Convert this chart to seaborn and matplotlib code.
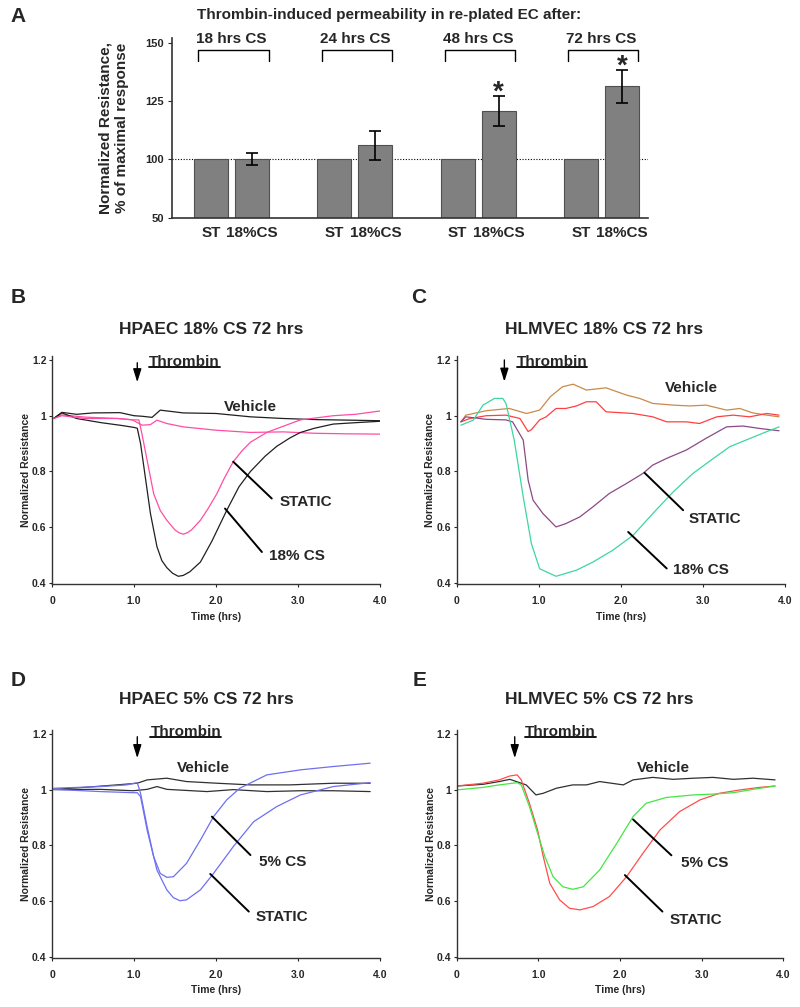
import pandas as pd
import seaborn as sns
import matplotlib
matplotlib.use("Agg")
from matplotlib import pyplot as plt

# Panel A: thrombin response in re-plated EC
groups = ["18 hrs CS", "24 hrs CS", "48 hrs CS", "72 hrs CS"]
conditions = ["ST", "18%CS"]
st_values = [100, 100, 100, 100]
cs_values = [100.2, 106.1, 120.6, 131.2]
cs_errors = [2.6, 6.2, 6.5, 7.0]
significant = [False, False, True, True]
a_yticks = [75, 100, 125, 150]
a_ytick_labels = ["50", "100", "125", "150"]

# Panel B: HPAEC 18% CS
b_t_vehicle = [0.02, 0.12, 0.3, 0.5, 0.83, 1.0, 1.1, 1.22, 1.32, 1.6, 2.0, 2.21, 2.42, 2.82, 3.23, 3.63, 4.0]
b_vehicle = [0.99, 1.012, 1.005, 1.01, 1.011, 1.0, 0.998, 0.994, 1.02, 1.01, 1.008, 1.002, 0.996, 0.99, 0.986, 0.984, 0.982]
b_t_vehicle2 = [0.02, 0.12, 0.4, 0.8, 0.98, 1.1, 1.2, 1.28, 1.4, 1.6, 2.0, 2.42, 2.82, 3.2, 3.6, 4.0]
b_vehicle2 = [0.99, 1.003, 0.995, 0.99, 0.985, 0.966, 0.968, 0.984, 0.972, 0.96, 0.948, 0.94, 0.942, 0.937, 0.935, 0.934]
b_t_cs = [0.02, 0.12, 0.3, 0.6, 0.85, 1.0, 1.04, 1.08, 1.12, 1.2, 1.28, 1.34, 1.4, 1.47, 1.54, 1.6, 1.68, 1.81,
          1.95, 2.13, 2.28, 2.42, 2.6, 2.74, 2.9, 3.03, 3.2, 3.43, 3.7, 4.0]
b_cs = [0.99, 1.01, 0.99, 0.975, 0.965, 0.958, 0.955, 0.9, 0.817, 0.65, 0.53, 0.48, 0.455, 0.435, 0.424, 0.427,
        0.44, 0.475, 0.55, 0.66, 0.745, 0.80, 0.855, 0.89, 0.92, 0.94, 0.955, 0.97, 0.975, 0.98]
b_t_static = [0.02, 0.12, 0.4, 0.8, 1.0, 1.06, 1.1, 1.16, 1.24, 1.32, 1.4, 1.5, 1.55, 1.6, 1.65, 1.7, 1.81, 1.9,
              2.01, 2.1, 2.21, 2.32, 2.42, 2.62, 2.8, 3.03, 3.43, 3.7, 4.0]
b_static = [0.99, 1.0, 0.99, 0.99, 0.985, 0.985, 0.93, 0.84, 0.72, 0.66, 0.625, 0.59, 0.58, 0.575, 0.58, 0.59,
            0.625, 0.665, 0.72, 0.775, 0.835, 0.875, 0.905, 0.94, 0.96, 0.985, 1.0, 1.005, 1.017]

# Panel C: HLMVEC 18% CS
c_t_vehicle = [0.05, 0.11, 0.36, 0.64, 0.85, 1.01, 1.14, 1.29, 1.42, 1.58, 1.82, 2.07, 2.23, 2.39, 2.64, 2.84,
               3.04, 3.29, 3.45, 3.61, 3.78, 3.93]
c_vehicle = [0.978, 1.002, 1.018, 1.026, 1.008, 1.02, 1.068, 1.104, 1.113, 1.092, 1.10, 1.074, 1.062, 1.044,
             1.038, 1.035, 1.038, 1.02, 1.026, 1.01, 1.002, 0.996]
c_t_vehicle2 = [0.05, 0.16, 0.36, 0.6, 0.77, 0.87, 0.91, 1.01, 1.09, 1.21, 1.33, 1.46, 1.58, 1.70, 1.82, 2.15,
                2.39, 2.56, 2.80, 2.96, 3.17, 3.37, 3.57, 3.78, 3.93]
c_vehicle2 = [0.978, 0.99, 1.0, 1.002, 0.99, 0.943, 0.95, 0.985, 0.996, 1.026, 1.026, 1.035, 1.05, 1.05, 1.014,
              1.008, 0.996, 0.978, 0.978, 0.972, 0.996, 1.002, 0.996, 1.008, 1.002]
c_t_static = [0.05, 0.11, 0.36, 0.6, 0.68, 0.81, 0.87, 0.93, 1.05, 1.21, 1.33, 1.50, 1.66, 1.86, 2.07, 2.27,
              2.39, 2.56, 2.80, 3.04, 3.29, 3.49, 3.70, 3.93]
c_static = [0.978, 0.996, 0.987, 0.985, 0.978, 0.913, 0.769, 0.697, 0.649, 0.601, 0.613, 0.637, 0.673, 0.721,
            0.757, 0.793, 0.823, 0.847, 0.877, 0.919, 0.96, 0.963, 0.954, 0.946]
c_t_cs = [0.05, 0.2, 0.32, 0.46, 0.56, 0.60, 0.70, 0.81, 0.91, 1.01, 1.21, 1.46, 1.66, 1.90, 2.15, 2.39, 2.64,
          2.88, 3.13, 3.33, 3.53, 3.78, 3.93]
c_cs = [0.966, 0.984, 1.038, 1.062, 1.062, 1.044, 0.913, 0.709, 0.541, 0.451, 0.424, 0.446, 0.475, 0.517,
        0.571, 0.649, 0.727, 0.793, 0.847, 0.889, 0.913, 0.943, 0.96]

# Panel D: HPAEC 5% CS
d_t_vehicle = [0.02, 0.39, 0.79, 1.04, 1.16, 1.40, 1.64, 2.01, 2.42, 2.90, 3.43, 3.88]
d_vehicle = [1.001, 1.008, 1.017, 1.023, 1.035, 1.041, 1.029, 1.023, 1.017, 1.017, 1.023, 1.023]
d_t_vehicle2 = [0.02, 0.59, 0.99, 1.16, 1.28, 1.40, 1.89, 2.21, 2.62, 3.03, 3.43, 3.88]
d_vehicle2 = [1.0, 1.001, 0.996, 1.001, 1.011, 1.001, 0.993, 1.0, 0.993, 0.996, 0.996, 0.993]
d_t_cs = [0.02, 0.59, 0.91, 1.04, 1.08, 1.16, 1.24, 1.32, 1.40, 1.48, 1.64, 1.81, 1.97, 2.13, 2.29, 2.62,
          3.03, 3.43, 3.88]
d_cs = [1.005, 1.011, 1.017, 1.025, 0.987, 0.867, 0.759, 0.699, 0.685, 0.687, 0.735, 0.819, 0.903, 0.963,
        1.005, 1.053, 1.071, 1.083, 1.095]
d_t_static = [0.02, 0.59, 0.99, 1.04, 1.08, 1.16, 1.28, 1.40, 1.48, 1.56, 1.64, 1.81, 1.97, 2.21, 2.46, 2.74,
              3.03, 3.43, 3.88]
d_static = [1.001, 0.993, 0.989, 0.989, 0.975, 0.855, 0.711, 0.64, 0.612, 0.601, 0.604, 0.64, 0.699, 0.795,
            0.885, 0.939, 0.981, 1.011, 1.025]

# Panel E: HLMVEC 5% CS
e_t_vehicle = [0.0, 0.32, 0.52, 0.65, 0.73, 0.85, 0.97, 1.06, 1.22, 1.42, 1.59, 1.75, 2.04, 2.16, 2.40, 2.65,
               2.90, 3.14, 3.39, 3.63, 3.90]
e_vehicle = [1.013, 1.019, 1.029, 1.037, 1.029, 1.017, 0.981, 0.987, 1.005, 1.017, 1.017, 1.029, 1.017, 1.035,
             1.044, 1.037, 1.041, 1.044, 1.037, 1.041, 1.035]
e_t_static = [0.0, 0.32, 0.52, 0.65, 0.74, 0.79, 0.89, 0.99, 1.06, 1.14, 1.26, 1.38, 1.51, 1.67, 1.87, 2.08,
              2.28, 2.49, 2.73, 2.98, 3.22, 3.47, 3.71, 3.90]
e_static = [1.013, 1.023, 1.035, 1.049, 1.053, 1.035, 0.951, 0.855, 0.759, 0.663, 0.604, 0.574, 0.568, 0.58,
            0.616, 0.687, 0.771, 0.855, 0.921, 0.963, 0.987, 0.999, 1.008, 1.013]
e_t_cs = [0.0, 0.32, 0.52, 0.74, 0.79, 0.89, 0.99, 1.08, 1.18, 1.30, 1.42, 1.55, 1.75, 1.96, 2.16, 2.32, 2.57,
          2.90, 3.14, 3.39, 3.63, 3.90]
e_cs = [0.999, 1.008, 1.017, 1.025, 1.017, 0.939, 0.843, 0.759, 0.687, 0.651, 0.642, 0.651, 0.711, 0.807,
        0.903, 0.951, 0.972, 0.981, 0.984, 0.989, 1.001, 1.013]

x_ticks = [0, 1, 2, 3, 4]
x_tick_labels = ["0", "1.0", "2.0", "3.0", "4.0"]
y_ticks = [0.4, 0.6, 0.8, 1.0, 1.2]
y_tick_labels = ["0.4", "0.6", "0.8", "1", "1.2"]

sns.set_style("ticks")
plt.rcParams["font.family"] = ["Liberation Sans", "DejaVu Sans"]
plt.rcParams["font.weight"] = "bold"
plt.rcParams["axes.labelweight"] = "bold"

fig = plt.figure(figsize=(8, 10.07), dpi=100)

# ---------------- panel A ----------------
ax = fig.add_axes([0.215, 0.7839, 0.595, 0.1784])
df = pd.DataFrame({
    "group": groups * 2,
    "cond": [conditions[0]] * 4 + [conditions[1]] * 4,
    "value": st_values + cs_values,
})
sns.barplot(data=df, x="group", y="value", hue="cond", order=groups, hue_order=conditions,
            palette=["#808080", "#808080"], width=0.665, gap=0.17, edgecolor="#505050",
            linewidth=0.8, errorbar=None, legend=False, ax=ax)
ax.axhline(100, color="black", lw=0.8, ls=(0, (1, 1.5)), zorder=0.5)
st_x = [b.get_x() + b.get_width() / 2 for b in ax.containers[0]]
cs_x = [b.get_x() + b.get_width() / 2 for b in ax.containers[1]]
ax.errorbar(cs_x, cs_values, yerr=cs_errors, fmt="none", ecolor="black", elinewidth=1.2,
            capsize=4, capthick=1.2, zorder=3)
for x, v, e, s in zip(cs_x, cs_values, cs_errors, significant):
    if s:
        ax.text(x, v + e + 1.5, "*", ha="center", va="center", fontsize=20, fontweight="bold")
for i, g in enumerate(groups):
    ax.text(i, 151.5, g, ha="center", va="center", fontsize=11, fontweight="bold", clip_on=False)
    ax.plot([i - 0.27, i - 0.27, i + 0.3, i + 0.3], [142.2, 146.9, 146.9, 142.2], color="black",
            lw=1, clip_on=False)
ax.set_xlim(-0.483, 3.378)
ax.set_ylim(75, 152)
ax.set_yticks(a_yticks, labels=a_ytick_labels)
ax.set_xticks(st_x + cs_x, labels=[conditions[0]] * 4 + [conditions[1]] * 4)
ax.tick_params(axis="x", length=0, pad=6, labelsize=11)
ax.tick_params(axis="y", length=3, width=0.8, pad=3, labelsize=8)
ax.set_xlabel("")
ax.set_ylabel("Normalized Resistance,\n% of maximal response", fontsize=11, fontweight="bold")
ax.yaxis.set_label_coords(-0.09, 0.5)
sns.despine(ax=ax)
for sp in ["left", "bottom"]:
    ax.spines[sp].set_linewidth(1.2)
    ax.spines[sp].set_color("#333333")
fig.text(389 / 800, 1 - 15 / 1007, "Thrombin-induced permeability in re-plated EC after:",
         ha="center", va="center", fontsize=11, fontweight="bold")

# ---------------- panels B-E ----------------
panels = [
    dict(letter="B", pos=[0.065, 0.4197, 0.41, 0.227], title="HPAEC 18% CS 72 hrs", title_xy=(211, 330),
         letter_xy=(18, 297),
         series=[(b_t_vehicle, b_vehicle, "#202020"), (b_t_vehicle2, b_vehicle2, "#ff4da6"),
                 (b_t_cs, b_cs, "#202020"), (b_t_static, b_static, "#ff4da6")],
         arrow_x=1.04, arrow_top=1.19, arrow_tip=1.12, thr_x=1.18, thr_y=1.194,
         labels=[("Vehicle", 2.42, 1.03), ("STATIC", 3.10, 0.69), ("18% CS", 2.99, 0.496)],
         leaders=[(2.21, 0.835, 2.68, 0.703), (2.11, 0.667, 2.56, 0.511)]),
    dict(letter="C", pos=[0.571, 0.4197, 0.41, 0.227], title="HLMVEC 18% CS 72 hrs", title_xy=(604, 330),
         letter_xy=(419, 297),
         series=[(c_t_vehicle, c_vehicle, "#c98a4b"), (c_t_vehicle2, c_vehicle2, "#ff4040"),
                 (c_t_static, c_static, "#8a4a86"), (c_t_cs, c_cs, "#3dd6a3")],
         arrow_x=0.58, arrow_top=1.2, arrow_tip=1.122, thr_x=0.73, thr_y=1.194,
         labels=[("Vehicle", 2.86, 1.098), ("STATIC", 3.15, 0.628), ("18% CS", 2.98, 0.445)],
         leaders=[(2.29, 0.795, 2.76, 0.661), (2.09, 0.583, 2.56, 0.452)]),
    dict(letter="D", pos=[0.065, 0.0486, 0.41, 0.2267], title="HPAEC 5% CS 72 hrs", title_xy=(206, 700),
         letter_xy=(18, 681),
         series=[(d_t_vehicle, d_vehicle, "#303030"), (d_t_vehicle2, d_vehicle2, "#303030"),
                 (d_t_cs, d_cs, "#6f6ff2"), (d_t_static, d_static, "#6f6ff2")],
         arrow_x=1.04, arrow_top=1.19, arrow_tip=1.113, thr_x=1.2, thr_y=1.208,
         labels=[("Vehicle", 1.85, 1.077), ("5% CS", 2.81, 0.739), ("STATIC", 2.80, 0.544)],
         leaders=[(1.95, 0.903, 2.42, 0.765), (1.93, 0.697, 2.40, 0.562)]),
    dict(letter="E", pos=[0.571, 0.0486, 0.408, 0.2267], title="HLMVEC 5% CS 72 hrs", title_xy=(599, 700),
         letter_xy=(420, 681),
         series=[(e_t_vehicle, e_vehicle, "#303030"), (e_t_static, e_static, "#ff4d4d"),
                 (e_t_cs, e_cs, "#44e644")],
         arrow_x=0.71, arrow_top=1.19, arrow_tip=1.113, thr_x=0.84, thr_y=1.208,
         labels=[("Vehicle", 2.53, 1.077), ("5% CS", 3.04, 0.738), ("STATIC", 2.93, 0.532)],
         leaders=[(2.16, 0.893, 2.63, 0.764), (2.06, 0.693, 2.52, 0.562)]),
]

thrombin_texts = []
for p in panels:
    ax = fig.add_axes(p["pos"])
    for xs, ys, col in p["series"]:
        sns.lineplot(x=xs, y=ys, color=col, lw=0.9, estimator=None, sort=False, ax=ax)
    ax.set_xlim(0, 4)
    ax.set_ylim(0.395, 1.215)
    ax.set_xticks(x_ticks, labels=x_tick_labels)
    ax.set_yticks(y_ticks, labels=y_tick_labels)
    ax.tick_params(labelsize=7.5, length=2.5, width=0.8)
    ax.tick_params(axis="x", pad=6)
    ax.tick_params(axis="y", pad=1.5)
    ax.set_xlabel("Time (hrs)", fontsize=7.5, fontweight="bold")
    ax.xaxis.set_label_coords(0.5, -0.12)
    ax.set_ylabel("Normalized Resistance", fontsize=7.5, fontweight="bold")
    ax.yaxis.set_label_coords(-0.065, 0.5)
    sns.despine(ax=ax)
    for sp in ["left", "bottom"]:
        ax.spines[sp].set_linewidth(1.0)
        ax.spines[sp].set_color("#333333")
    ax.annotate("", xy=(p["arrow_x"], p["arrow_tip"]), xytext=(p["arrow_x"], p["arrow_top"]),
                arrowprops=dict(arrowstyle="-|>,head_length=0.8,head_width=0.25", color="black", lw=1,
                                mutation_scale=10, shrinkA=0, shrinkB=0), annotation_clip=False)
    t = ax.text(p["thr_x"], p["thr_y"], "Thrombin", ha="left", va="center", fontsize=11,
                fontweight="bold", clip_on=False)
    thrombin_texts.append((ax, t))
    for txt, x, y in p["labels"]:
        ax.text(x, y, txt, ha="center", va="center", fontsize=11, fontweight="bold")
    for x0, y0, x1, y1 in p["leaders"]:
        ax.plot([x0, x1], [y0, y1], color="black", lw=1.4)
    fig.text(p["title_xy"][0] / 800, 1 - p["title_xy"][1] / 1007, p["title"], ha="center", va="center",
             fontsize=12.5, fontweight="bold")
    fig.text(p["letter_xy"][0] / 800, 1 - p["letter_xy"][1] / 1007, p["letter"], ha="center",
             va="center", fontsize=15, fontweight="bold")

fig.text(18 / 800, 1 - 17 / 1007, "A", ha="center", va="center", fontsize=15, fontweight="bold")

# underline the Thrombin labels
fig.canvas.draw()
renderer = fig.canvas.get_renderer()
for ax, t in thrombin_texts:
    bb = t.get_window_extent(renderer)
    inv = ax.transData.inverted()
    (x0, y0), (x1, _) = inv.transform([(bb.x0, bb.y0 + 2), (bb.x1, bb.y0 + 2)])
    ax.plot([x0, x1], [y0, y0], color="black", lw=1.3, clip_on=False)

fig.savefig("out.png", dpi=100)
